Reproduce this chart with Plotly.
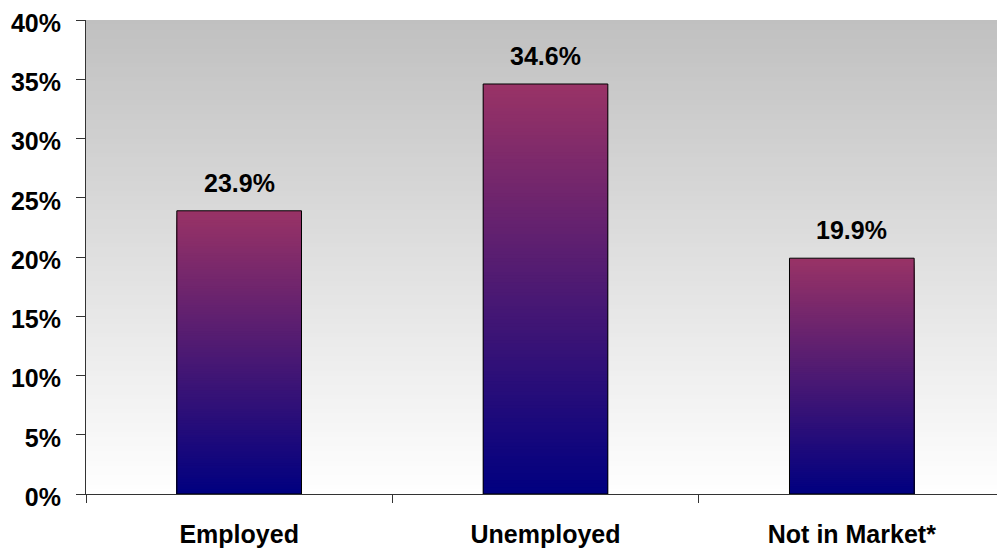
import plotly.graph_objects as go

categories = ["Employed", "Unemployed", "Not in Market*"]
values = [23.9, 34.6, 19.9]
value_labels = ["23.9%", "34.6%", "19.9%"]
y_ticks = [0, 5, 10, 15, 20, 25, 30, 35, 40]
y_tick_labels = ["0%", "5%", "10%", "15%", "20%", "25%", "30%", "35%", "40%"]

FONT = "Liberation Sans, Arial, sans-serif"
TOP_RGB = (153, 51, 102)
BOT_RGB = (0, 0, 128)
N_SEG = 120


def lerp(c1, c2, t):
    return "rgb(%d,%d,%d)" % tuple(round(a + (b - a) * t) for a, b in zip(c1, c2))


# gradient bars: nested bars from the data values, tallest drawn first
seg_x, seg_y, seg_col = [], [], []
for i in range(N_SEG, 0, -1):
    f = i / N_SEG
    for cat, v in zip(categories, values):
        seg_x.append(cat)
        seg_y.append(v * f)
        seg_col.append(lerp(BOT_RGB, TOP_RGB, (i - 0.5) / N_SEG))

fig = go.Figure()
fig.add_trace(go.Bar(
    x=seg_x, y=seg_y,
    marker=dict(color=seg_col, line=dict(width=0)),
    hoverinfo="skip", showlegend=False,
))
fig.add_trace(go.Bar(
    x=categories, y=values,
    marker=dict(color="rgba(0,0,0,0)", line=dict(color="black", width=1)),
    hoverinfo="skip", showlegend=False,
))

# background gradient (gray at top to white at bottom), nested rectangles
ymax = y_ticks[-1]
N_BG = 100
shapes = []
for i in range(N_BG, 0, -1):
    t = (i - 0.5) / N_BG
    shapes.append(dict(
        type="rect", xref="paper", yref="y", x0=0, x1=1, y0=0, y1=ymax * i / N_BG,
        fillcolor=lerp((255, 255, 255), (192, 192, 192), t),
        line=dict(width=0), layer="below",
    ))

annotations = []
for cat, v, lab in zip(categories, values, value_labels):
    annotations.append(dict(
        x=cat, y=v, text=lab, showarrow=False, yanchor="bottom", yshift=12,
        font=dict(family=FONT, size=25, color="black", weight="bold"),
    ))

# page body has an 8px margin, so the figure is sized/offset to compensate
fig.update_layout(
    width=997, height=542,
    margin=dict(l=78, r=0, t=12, b=56),
    paper_bgcolor="white", plot_bgcolor="white",
    barmode="overlay", bargap=0.593,
    shapes=shapes, annotations=annotations,
    xaxis=dict(
        tickson="boundaries", ticks="outside", ticklen=8, tickcolor="#333",
        showline=True, linecolor="#333", linewidth=1, automargin=False,
        showgrid=False, ticklabelstandoff=18,
        tickfont=dict(family=FONT, size=25, color="black", weight="bold"),
    ),
    yaxis=dict(
        range=[0, ymax], tickvals=y_ticks, ticktext=y_tick_labels,
        ticks="outside", ticklen=9, tickcolor="#333", automargin=False,
        showline=True, linecolor="#333", linewidth=1, ticklabeloverflow="allow",
        showgrid=False, zeroline=False, ticklabelstandoff=10, ticklabelshift=3,
        tickfont=dict(family=FONT, size=25, color="black", weight="bold"),
    ),
)

fig.write_html("out.html")
